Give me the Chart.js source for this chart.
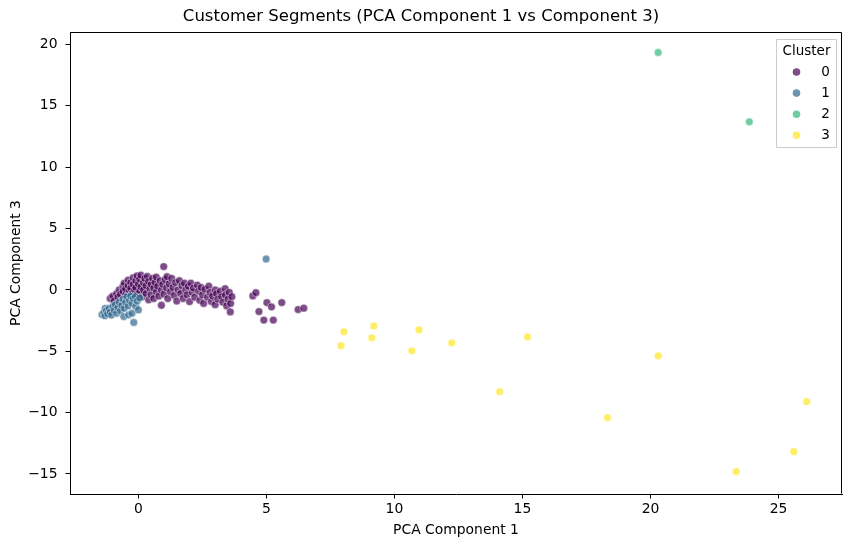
<!DOCTYPE html>
<html>
<head>
<meta charset="utf-8">
<script src="https://cdn.jsdelivr.net/npm/chart.js@4.4.0/dist/chart.umd.min.js"></script>
<style>
  html, body { margin: 0; padding: 0; background: #fff; }
  #wrap { width: 853px; height: 547px; position: relative; }
</style>
</head>
<body>
<div id="wrap"><canvas id="myChart"></canvas></div>
<script>
// Cluster labels and their viridis colours (alpha 0.7, like the seaborn plot)
var clusterLabels = ['0', '1', '2', '3'];
var clusterColors = ['rgba(68, 1, 84, 0.7)', 'rgba(49, 104, 142, 0.7)', 'rgba(53, 183, 121, 0.7)', 'rgba(253, 231, 37, 0.7)'];

// [PCA component 1, PCA component 3]
var cluster0 = [
    [-1.1, -0.7], [-1.0, -0.5], [-0.95, -0.9], [-0.85, -0.3], [-0.8, -0.6], [-0.75, 0.0], [-0.7, -0.35],
    [-0.6, 0.3], [-0.6, -0.1], [-0.55, 0.55], [-0.5, -0.4], [-0.5, 0.1],
    [-0.4, 0.8], [-0.4, 0.35], [-0.35, -0.1], [-0.3, 0.6], [-0.3, 0.15], [-0.25, -0.3],
    [-0.2, 1.0], [-0.2, 0.45], [-0.15, 0.0], [-0.1, 0.75], [-0.1, 0.2], [-0.05, -0.35], [-0.05, 1.15],
    [0.0, 0.5], [0.05, 0.9], [0.05, -0.1], [0.1, 0.25], [0.1, 1.2], [0.15, -0.55], [0.2, 0.6], [0.2, 0.0],
    [0.25, 0.95], [0.3, -0.3], [0.3, 0.35], [0.35, 1.1], [0.4, 0.7], [0.4, -0.8], [0.45, 0.1], [0.5, 0.45],
    [0.5, -0.4], [0.55, 0.95], [0.6, 0.15], [0.6, -0.7], [0.65, 0.6], [0.7, -0.15], [0.7, 1.05], [0.75, 0.3],
    [0.8, -0.5], [0.85, 0.75], [0.9, 0.0], [0.9, -1.25], [0.95, 0.45], [0.99, 1.9], [1.0, -0.35], [1.05, 0.85],
    [1.1, 0.15], [1.12, 1.08], [1.15, -0.7], [1.2, 0.5], [1.25, -0.15], [1.3, 0.95], [1.35, 0.2], [1.4, -0.45],
    [1.45, 0.6], [1.5, -0.9], [1.55, 0.0], [1.6, 0.75], [1.65, -0.3], [1.7, 0.35], [1.75, -0.7], [1.8, 0.55],
    [1.85, 0.0], [1.9, -0.4], [1.95, 0.3], [2.0, -0.95], [2.05, 0.55], [2.1, -0.2], [2.15, 0.15], [2.2, -0.6],
    [2.3, 0.4], [2.35, -0.1], [2.4, -0.85], [2.45, 0.2], [2.5, -0.4], [2.55, -1.1], [2.6, 0.05], [2.7, -0.6],
    [2.75, 0.3], [2.8, -0.2], [2.85, -0.95], [2.9, -0.5], [3.0, 0.0], [3.0, -1.2], [3.05, -0.3], [3.1, -0.75],
    [3.2, -0.1], [3.25, -0.55], [3.3, -1.0], [3.39, 0.1], [3.4, -0.4], [3.45, -1.3], [3.5, -0.75], [3.55, -0.2],
    [3.59, -1.79], [3.6, -1.1], [3.65, -0.55],
    [4.47, -0.49], [4.59, -0.22], [4.71, -1.76], [4.9, -2.46], [5.02, -1.03], [5.2, -1.38], [5.27, -2.46],
    [5.6, -1.03], [6.24, -1.6], [6.46, -1.49]
];
var cluster1 = [
    [-1.42, -2.0], [-1.35, -1.85], [-1.3, -2.1], [-1.3, -1.5], [-1.25, -1.7], [-1.2, -1.95], [-1.15, -1.5],
    [-1.1, -1.8], [-1.05, -2.05], [-1.0, -1.35], [-0.95, -1.65], [-0.9, -1.2], [-0.85, -1.9], [-0.8, -1.45],
    [-0.75, -1.0], [-0.7, -1.7], [-0.65, -1.25], [-0.6, -0.75], [-0.57, -2.17], [-0.55, -1.5], [-0.5, -1.0],
    [-0.45, -0.55], [-0.4, -1.3], [-0.38, -2.03], [-0.35, -0.85], [-0.3, -0.5], [-0.25, -1.9], [-0.25, -1.1],
    [-0.2, -0.7], [-0.18, -2.65], [-0.12, -0.54], [-0.1, -1.35], [-0.05, -0.9], [0.0, -1.63], [0.05, -0.65],
    [4.99, 2.52]
];
var cluster2 = [[20.3, 19.35], [23.86, 13.7]];
var cluster3 = [
    [7.91, -4.55], [8.03, -3.41], [9.12, -3.9], [9.2, -2.93], [10.68, -4.96], [10.96, -3.25], [12.24, -4.31],
    [14.11, -8.29], [15.2, -3.82], [18.32, -10.4], [20.3, -5.37], [23.35, -14.8], [25.6, -13.17], [26.1, -9.1]
];
var clusters = [cluster0, cluster1, cluster2, cluster3];

// Tick labels
var xTicks = [0, 5, 10, 15, 20, 25];
var yTicks = [-15, -10, -5, 0, 5, 10, 15, 20];

var fontFamily = "'DejaVu Sans', 'Liberation Sans', sans-serif";

var datasets = clusters.map(function (pts, i) {
    return {
        label: clusterLabels[i],
        data: pts.map(function (p) { return { x: p[0], y: p[1] }; }),
        backgroundColor: clusterColors[i],
        borderColor: 'rgba(255, 255, 255, 0.7)',
        borderWidth: 0.7,
        pointRadius: 3.9,
        pointHoverRadius: 3.9,
        order: i === 0 ? 1 : 0 // blue drawn over purple
    };
});

function minusSign(v) {
    return String(v).replace('-', '\u2212');
}

// matplotlib-like frame and boxed legend
var frameAndLegend = {
    id: 'frameAndLegend',
    afterDraw: function (chart) {
        var ctx = chart.ctx;
        var a = chart.chartArea;
        var l = Math.round(a.left) + 0.5, r = Math.round(a.right) - 0.5;
        var t = Math.round(a.top) + 0.5, b = Math.round(a.bottom) - 0.5;
        ctx.save();
        ctx.strokeStyle = '#000000';
        ctx.lineWidth = 1;
        ctx.beginPath();
        ctx.moveTo(l, t);
        ctx.lineTo(r, t);
        ctx.lineTo(r, b);
        ctx.moveTo(l, t);
        ctx.lineTo(l, b);
        ctx.stroke();

        var w = 60, h = 108;
        var x0 = r - 5 - w;
        var y0 = t + 7;
        ctx.fillStyle = 'rgba(255, 255, 255, 0.8)';
        ctx.strokeStyle = '#cccccc';
        ctx.beginPath();
        ctx.rect(x0, y0, w, h);
        ctx.fill();
        ctx.stroke();

        ctx.fillStyle = '#000';
        ctx.font = '13.5px ' + fontFamily;
        ctx.textBaseline = 'middle';
        ctx.textAlign = 'center';
        ctx.fillText('Cluster', x0 + w / 2, y0 + 12);

        clusterLabels.forEach(function (lab, i) {
            var cy = y0 + 32.5 + i * 21.1;
            ctx.beginPath();
            ctx.arc(x0 + 20, cy, 3.8, 0, Math.PI * 2);
            ctx.fillStyle = clusterColors[i];
            ctx.fill();
            ctx.fillStyle = '#000';
            ctx.textAlign = 'center';
            ctx.fillText(lab, x0 + 49, cy);
        });
        ctx.restore();
    }
};

var ctx = document.getElementById('myChart').getContext('2d');

var myChart = new Chart(ctx, {
    type: 'scatter',
    data: { datasets: datasets },
    options: {
        responsive: true,
        maintainAspectRatio: false,
        animation: false,
        devicePixelRatio: 1,
        layout: { padding: { left: 0, right: 11, top: 0, bottom: 0 } },
        plugins: {
            legend: { display: false },
            tooltip: { enabled: false },
            title: {
                display: true,
                text: 'Customer Segments (PCA Component 1 vs Component 3)',
                color: '#000',
                font: { family: fontFamily, size: 16.5, weight: 'normal', lineHeight: 1.2 },
                padding: { top: 7, bottom: 5.2 }
            }
        },
        scales: {
            x: {
                type: 'linear',
                min: -2.67,
                max: 27.48,
                afterBuildTicks: function (scale) {
                    scale.ticks = xTicks.map(function (v) { return { value: v }; });
                },
                afterFit: function (scale) { scale.height = 53; },
                grid: { display: true, drawOnChartArea: false, drawTicks: true, tickLength: 4.5, color: '#000' },
                border: { display: true, color: '#000', width: 1 },
                ticks: {
                    color: '#000',
                    padding: 3,
                    maxRotation: 0,
                    font: { family: fontFamily, size: 13.9 },
                    callback: minusSign
                },
                title: {
                    display: true,
                    text: 'PCA Component 1',
                    color: '#000',
                    font: { family: fontFamily, size: 13.9 },
                    padding: { top: 0, bottom: 8.5 }
                }
            },
            y: {
                type: 'linear',
                min: -16.63,
                max: 21.02,
                afterBuildTicks: function (scale) {
                    scale.ticks = yTicks.map(function (v) { return { value: v }; });
                },
                afterFit: function (scale) { scale.width = 70; },
                grid: { display: true, drawOnChartArea: false, drawTicks: true, tickLength: 4.5, color: '#000' },
                border: { display: true, color: '#000', width: 1 },
                ticks: {
                    color: '#000',
                    padding: 8,
                    font: { family: fontFamily, size: 13.9 },
                    callback: minusSign
                },
                title: {
                    display: true,
                    text: 'PCA Component 3',
                    color: '#000',
                    font: { family: fontFamily, size: 13.9 },
                    padding: { top: 7.7, bottom: 0 }
                }
            }
        }
    },
    plugins: [frameAndLegend]
});
</script>
</body>
</html>
